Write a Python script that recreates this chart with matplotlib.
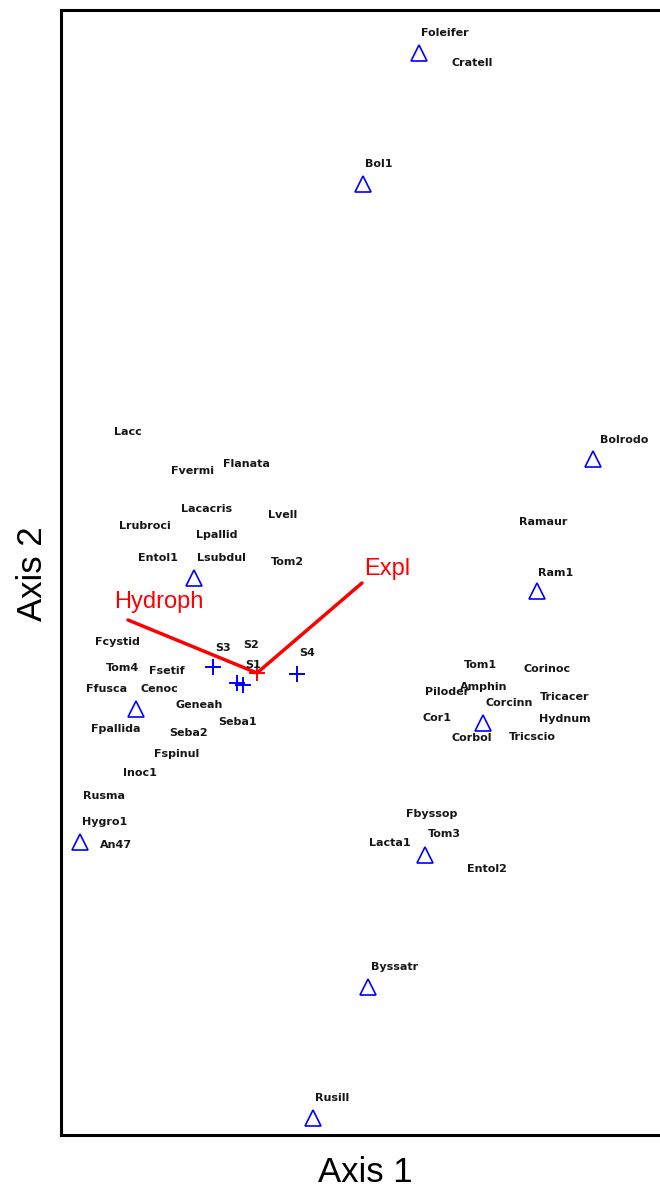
import matplotlib
matplotlib.use('Agg')
import matplotlib.pyplot as plt

# species labels (axis 1, axis 2 scores)
species = ['Foleifer', 'Cratell', 'Bol1', 'Bolrodo', 'Ramaur', 'Ram1',
           'Lacc', 'Fvermi', 'Flanata', 'Lacacris', 'Lvell', 'Lrubroci',
           'Lpallid', 'Entol1', 'Lsubdul', 'Tom2',
           'Fcystid', 'Tom4', 'Fsetif', 'Ffusca', 'Cenoc', 'Geneah', 'Seba1',
           'Fpallida', 'Seba2', 'Fspinul', 'Inoc1', 'Rusma', 'Hygro1', 'An47',
           'Tom1', 'Corinoc', 'Piloder', 'Amphin', 'Tricacer', 'Corcinn',
           'Cor1', 'Hydnum', 'Corbol', 'Tricscio',
           'Fbyssop', 'Tom3', 'Lacta1', 'Entol2', 'Byssatr', 'Rusill']
sp_x = [445, 472, 379, 624, 543, 556,
        128, 193, 246, 207, 283, 145,
        217, 158, 221, 287,
        117, 123, 167, 107, 159, 199, 238,
        116, 189, 177, 140, 104, 105, 116,
        480, 547, 447, 484, 565, 509,
        437, 565, 472, 532,
        432, 444, 390, 487, 395, 332]
sp_y = [33, 63, 164, 440, 522, 573,
        432, 471, 464, 509, 515, 526,
        535, 558, 558, 562,
        642, 668, 671, 689, 689, 705, 722,
        729, 733, 754, 773, 796, 822, 845,
        665, 669, 692, 687, 697, 703,
        718, 719, 738, 737,
        814, 834, 843, 869, 967, 1098]

# plotted species points (triangles)
tri_x = [419, 363, 593, 537, 194, 136, 80, 483, 425, 368, 313]
tri_y = [53, 184, 459, 591, 578, 709, 842, 723, 855, 987, 1118]

# sample units
plots = ['S3', 'S2', 'S1', 'S4']
plot_x = [213, 237, 243, 297]
plot_y = [667, 683, 685, 674]
plot_lx = [223, 251, 253, 307]
plot_ly = [648, 645, 665, 653]

# environmental vectors (origin = centroid)
centroid = (257, 673)
vectors = ['Hydroph', 'Expl']
vec_x = [128, 362]
vec_y = [620, 583]
vec_lx = [159, 387]
vec_ly = [608, 575]

fig = plt.figure(figsize=(6.6, 11.89), dpi=100)
ax = fig.add_axes([61/660, 54/1189, (700-61)/660, 1125/1189])
ax.set_xlim(61, 700)
ax.set_ylim(1135, 10)
ax.set_xticks([])
ax.set_yticks([])
for s in ax.spines.values():
    s.set_linewidth(2.2)

ax.plot(tri_x, tri_y, linestyle='none', marker='^', markersize=11,
        markerfacecolor='none', markeredgecolor='#0000ff', markeredgewidth=1.2)
ax.plot(plot_x, plot_y, linestyle='none', marker='+', markersize=12,
        color='#0000ff', markeredgewidth=1.4)

for n, x, y in zip(species, sp_x, sp_y):
    ax.text(x, y, n, ha='center', va='center', fontsize=8,
            fontweight='bold', color='#161616')
for n, x, y in zip(plots, plot_lx, plot_ly):
    ax.text(x, y, n, ha='center', va='center', fontsize=8,
            fontweight='bold', color='#161616')

ax.plot(centroid[0], centroid[1], marker='+', markersize=12, color='red',
        markeredgewidth=1.4, linestyle='none')
for n, x, y, lx, ly in zip(vectors, vec_x, vec_y, vec_lx, vec_ly):
    ax.plot([centroid[0], x], [centroid[1], y], color='red', lw=2.5,
            solid_capstyle='round')
    ax.text(lx, ly, n, ha='center', va='baseline', fontsize=17, color='red',
            family='Liberation Sans')

fig.text(365/660, 1 - 1182/1189, 'Axis 1', ha='center', va='baseline',
         fontsize=25, family='Liberation Sans')
fig.text(33/660, 1 - 574/1189, 'Axis 2', ha='center', va='center',
         fontsize=25, family='Liberation Sans', rotation=90)

fig.savefig('out.png', dpi=100)
